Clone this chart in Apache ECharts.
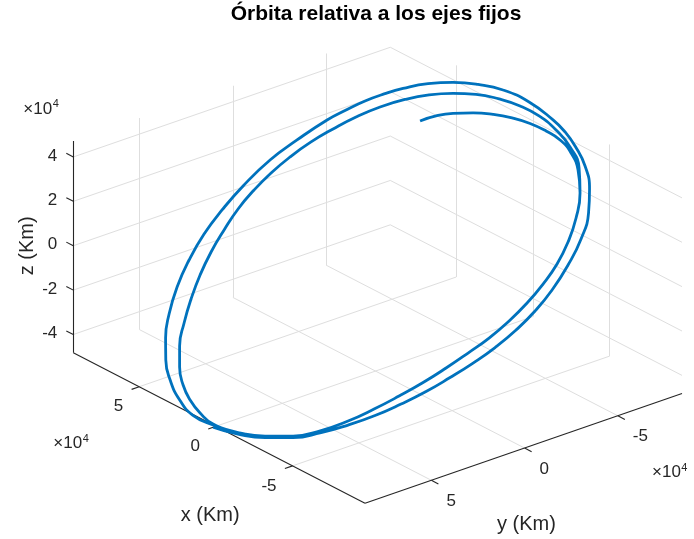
<!DOCTYPE html>
<html><head><meta charset="utf-8">
<script src="https://cdn.jsdelivr.net/npm/echarts@6/dist/echarts.min.js"></script>
<style>html,body{margin:0;padding:0;background:#fff}#c{width:694px;height:539px}</style>
</head><body><div id="c"></div>
<script>
// ---- data (km) : three successive revolutions of the trajectory ----
const orbitX = [
  860, -12930, -26100, -38210, -48200, -56680, -64310, -70660, -76150, -80570, -84340, -87260, -88890, -89010, -87420, -83690, -78240, -70410, -60620, -48880, -36040, -25750, -15440, 2600, 18960, 32120, 43780, 54040, 62860, 68730, 73970, 78350, 82310, 86770, 89930, 90540, 89400, 86960, 82370, 76060, 68020, 59320, 49860, 38880, 26810, 14840,
  1710, -12300, -25460, -37580, -47340, -54980, -61110, -66390, -71020, -74790, -77920, -80610, -82020, -82140, -80970, -78510, -73900, -67140, -58220, -47140, -34300, -21000, -7690, 4790, 16860, 28720, 39100, 48840, 57300, 64920, 71050, 75880, 79860, 82560, 83960, 84070, 82900, 80010, 76270, 71230, 64900, 57700, 49850, 40910, 31730, 22310, 12450,
  2140, -12300, -25460, -37580, -47340, -54980, -61110, -66390, -71020, -74790, -77920, -80610, -82020, -82140, -80970, -78510, -73900, -67140, -58220, -47560, -37290, -26990, -17100, -6990, 3140, 12850, 22140, 30580, 36870, 41660
];
const orbitY = [
  86370, 84300, 80650, 75590, 68780, 61280, 53080, 44350, 35460, 26230, 16990, 7590, -2330, -12410, -22840, -34480, -45930, -56390, -64970, -72210, -77410, -80500, -82530, -84500, -84000, -81410, -77600, -72630, -66460, -61110, -55220, -48640, -41710, -29280, -17400, -3430, 8770, 20430, 32240, 43860, 54760, 63790, 71460, 77960, 82950, 85870,
  85670, 83780, 80130, 75070, 68080, 59880, 50980, 41920, 32850, 23620, 14400, 5350, -4210, -13770, -23310, -32840, -42530, -52380, -61850, -70430, -76150, -79570, -81400, -81470, -80130, -77550, -73750, -68890, -62970, -55830, -48000, -39640, -31110, -22070, -13030, -4010, 5530, 15410, 25460, 35500, 45530, 55200, 64060, 71410, 77080, 81070, 83820,
  85320, 83780, 80130, 75070, 68080, 59880, 50980, 41920, 32850, 23620, 14400, 5350, -4210, -13770, -23310, -32840, -42530, -52380, -61850, -69540, -74230, -76800, -77420, -77150, -75830, -73620, -70530, -66740, -62800, -58160
];
const orbitZ = [
  -48630, -47460, -45410, -42560, -38730, -34500, -29880, -24970, -19970, -14760, -9570, -4270, 1310, 6990, 12860, 19410, 25860, 31750, 36580, 40650, 43580, 45320, 46470, 47570, 47290, 45840, 43690, 40890, 37420, 34400, 31090, 27380, 23480, 16490, 9800, 1930, -4940, -11500, -18150, -24690, -30830, -35910, -40230, -43890, -46700, -48350,
  -48230, -47170, -45110, -42260, -38330, -33710, -28700, -23600, -18500, -13300, -8110, -3010, 2370, 7750, 13120, 18490, 23940, 29490, 34820, 39650, 42870, 44800, 45830, 45870, 45110, 43660, 41520, 38780, 35450, 31430, 27020, 22320, 17520, 12420, 7340, 2260, -3110, -8680, -14340, -19990, -25630, -31080, -36070, -40210, -43400, -45640, -47190,
  -48030, -47170, -45110, -42260, -38330, -33710, -28700, -23600, -18500, -13300, -8110, -3010, 2370, 7750, 13120, 18490, 23940, 29490, 34820, 39150, 41790, 43240, 43590, 43440, 42690, 41450, 39710, 37580, 35360, 32740
];
const xLim = [-97300, 93000];
const yLim = [-84400, 85600];
const zLim = [-48200, 47200];
const xTicks = [-50000, 0, 50000];
const yTicks = [-50000, 0, 50000];
const zTicks = [-40000, -20000, 0, 20000, 40000];
const tickScale = 1e4;
const titleText = 'Órbita relativa a los ejes fijos';
const xLabel = 'x (Km)', yLabel = 'y (Km)', zLabel = 'z (Km)';

// ---- view / layout (screen geometry of the 3-D box) ----
const F = [365, 503.3];   // corner (xmin, ymax, zmin)
const L = [73.3, 352.7];  // corner (xmax, ymax, zmin)
const R = [682, 393.6];   // corner (xmin, ymin, zmin)
const H = 211.7;          // box height
function project(x, y, z) {
  const u = (x - xLim[0]) / (xLim[1] - xLim[0]);
  const v = (yLim[1] - y) / (yLim[1] - yLim[0]);
  const w = (z - zLim[0]) / (zLim[1] - zLim[0]);
  return [F[0] + u * (L[0] - F[0]) + v * (R[0] - F[0]),
          F[1] + u * (L[1] - F[1]) + v * (R[1] - F[1]) - w * H];
}
const [x0, x1] = xLim, [y0, y1] = yLim, [z0, z1] = zLim;

const gridSegs = [], axisSegs = [];
const seg = (arr, a, b) => arr.push({ coords: [project(...a), project(...b)] });
xTicks.forEach(x => { seg(gridSegs, [x, y0, z0], [x, y1, z0]); seg(gridSegs, [x, y0, z0], [x, y0, z1]); });
yTicks.forEach(y => { seg(gridSegs, [x0, y, z0], [x1, y, z0]); seg(gridSegs, [x1, y, z0], [x1, y, z1]); });
zTicks.forEach(z => { seg(gridSegs, [x1, y0, z], [x1, y1, z]); seg(gridSegs, [x0, y0, z], [x1, y0, z]); });

seg(axisSegs, [x1, y1, z0], [x0, y1, z0]);
seg(axisSegs, [x0, y1, z0], [x0, y0, z0]);
seg(axisSegs, [x1, y1, z0], [x1, y1, z1]);
const tl = 0.024;
xTicks.forEach(x => seg(axisSegs, [x, y1, z0], [x, y1 + tl * (y1 - y0), z0]));
yTicks.forEach(y => seg(axisSegs, [x0, y, z0], [x0 - tl * (x1 - x0), y, z0]));
zTicks.forEach(z => seg(axisSegs, [x1, y1, z], [x1 + tl * (x1 - x0), y1, z]));

const orbit = orbitX.map((x, i) => project(x, orbitY[i], orbitZ[i]));

// ---- texts ----
const FAM = '"Liberation Sans", Arial, Helvetica, sans-serif';
const tickFont = '17px ' + FAM, supFont = '11px ' + FAM, labelFont = '20px ' + FAM, titleFont = 'bold 21px ' + FAM;
const fmt = v => String(v / tickScale);
const texts = [];
function addText(p, dx, dy, text, font, align, valign, rot, color) {
  texts.push({ p, dx, dy, text, font, align, valign, rot: rot || 0, color: color || '#262626' });
}
zTicks.forEach(z => addText(project(x1, y1, z), -16, -1, fmt(z), tickFont, 'right', 'middle'));
xTicks.forEach(x => addText(project(x, y1, z0), -16, 20, fmt(x), tickFont, 'right', 'middle'));
yTicks.forEach(y => addText(project(x0, y, z0), 15, 21, fmt(y), tickFont, 'left', 'middle'));
const midX = project((x0 + x1) / 2, y1, z0), midY = project(x0, (y0 + y1) / 2, z0), midZ = project(x1, y1, (z0 + z1) / 2);
addText(midX, -9, 87, xLabel, labelFont, 'center', 'middle');
addText(midY, 3, 76.5, yLabel, labelFont, 'center', 'middle');
addText(midZ, -46, -1, zLabel, labelFont, 'center', 'middle', Math.PI / 2);
texts.push({ p: [0, 0], dx: 376, dy: 14, text: titleText, font: titleFont, align: 'center', valign: 'middle', rot: 0, color: '#000' });
const ctx = document.createElement('canvas').getContext('2d');
ctx.font = tickFont;
const wX10 = ctx.measureText('×10').width;
function addExp(p, dx, dy) {
  addText(p, dx, dy, '×10', tickFont, 'left', 'middle');
  addText(p, dx + wX10 + 0.5, dy - 5, '4', supFont, 'left', 'middle');
}
addExp(project(x1, y1, z1), -50, -32);
addExp(project(x1, y1, z0), -20, 91);
addExp(project(x0, y0, z0), -30, 79);

const chart = echarts.init(document.getElementById('c'), null, { renderer: 'canvas' });
chart.setOption({
  animation: false,
  backgroundColor: '#fff',
  grid: { left: 0, right: 0, top: 0, bottom: 0 },
  xAxis: { type: 'value', min: 0, max: 694, show: false },
  yAxis: { type: 'value', min: 0, max: 539, inverse: true, show: false },
  series: [
    { type: 'lines', coordinateSystem: 'cartesian2d', silent: true, z: 1,
      lineStyle: { color: '#dedede', width: 1, opacity: 1, curveness: 0 }, data: gridSegs },
    { type: 'lines', coordinateSystem: 'cartesian2d', silent: true, z: 2,
      lineStyle: { color: '#262626', width: 1.1, opacity: 1, curveness: 0 }, data: axisSegs },
    { type: 'line', silent: true, z: 3, data: orbit, smooth: 0.5, showSymbol: false, symbol: 'none',
      lineStyle: { color: '#0072BD', width: 2.8 }, clip: false },
    { type: 'custom', coordinateSystem: 'cartesian2d', silent: true, z: 4, clip: false,
      data: texts.map((t, i) => [t.p[0], t.p[1], i]),
      renderItem: (params, api) => {
        const t = texts[api.value(2)];
        const c = api.coord([api.value(0), api.value(1)]);
        return { type: 'text', x: c[0] + t.dx, y: c[1] + t.dy, rotation: t.rot,
          style: { text: t.text, fill: t.color, font: t.font, align: t.align, verticalAlign: t.valign } };
      } }
  ]
});
</script></body></html>
